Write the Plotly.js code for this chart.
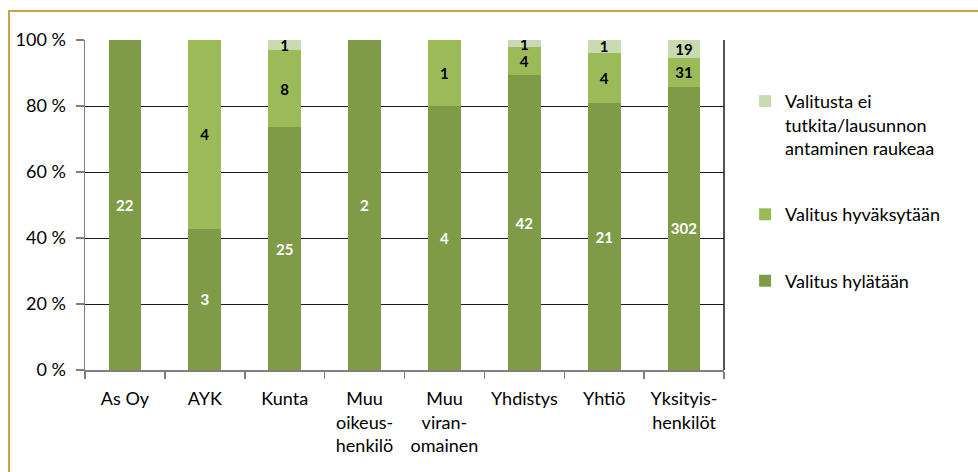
<!DOCTYPE html>
<html>
<head>
<meta charset="utf-8">
<script src="https://cdn.plot.ly/plotly-3.0.1.min.js"></script>
<style>
html,body{margin:0;padding:0;background:#fff;}
#frame{position:absolute;left:8px;top:10px;width:980px;height:470px;border-top:2px solid #C9A14A;border-left:2px solid #C9A14A;}
#chart{position:absolute;left:0;top:0;width:978px;height:472px;}
</style>
</head>
<body>
<div id="frame"></div>
<div id="chart"></div>
<script>
var categories = ["As Oy","AYK","Kunta","Muu<br>oikeus-<br>henkilö","Muu<br>viran-<br>omainen","Yhdistys","Yhtiö","Yksityis-<br>henkilöt"];
var hylataan   = [22, 3, 25, 2, 4, 42, 21, 302];
var hyvaksytaan= [0, 4, 8, 0, 1, 4, 4, 31];
var eiTutkita  = [0, 0, 1, 0, 0, 1, 1, 19];
var seriesNames = ["Valitus hylätään","Valitus hyväksytään","Valitusta ei<br>tutkita/lausunnon<br>antaminen raukeaa"];
var yTicks = [0,20,40,60,80,100];
var yTickText = ["0 %","20 %","40 %","60 %","80 %","100 %"];

var FONT = "'Gill Sans', 'Gill Sans MT', Lato, sans-serif";
function lbl(arr){ return arr.map(function(v){ return v ? String(v) : ""; }); }

function mk(vals, name, color, txtColor, group, rank){
  return {
    type:'bar', x:categories, y:vals, name:name,
    marker:{color:color, line:{width:0}},
    text:lbl(vals), textposition:'inside', insidetextanchor:'middle',
    constraintext:'none', textangle:0,
    textfont:{family:FONT, size:15, color:txtColor, weight:'bold'},
    legendgroup:group, legendrank:rank, hoverinfo:'none'
  };
}
var data = [
  mk(hylataan, seriesNames[0], '#809B48', '#ffffff', 'a', 3),
  mk(hyvaksytaan, seriesNames[1], '#9BBB59', '#000000', 'b', 2),
  mk(eiTutkita, seriesNames[2], '#C8DAB2', '#000000', 'c', 1)
];

var layout = {
  width:978, height:472,
  margin:{l:85, r:254, t:40, b:102},
  paper_bgcolor:'rgba(0,0,0,0)', plot_bgcolor:'rgba(0,0,0,0)',
  barmode:'stack', barnorm:'percent', bargap:0.59,
  font:{family:FONT, size:18, color:'#000'},
  showlegend:true,
  legend:{x:1.033, xanchor:'left', y:0.87, yanchor:'top', traceorder:'grouped', valign:'top',
          tracegroupgap:40, font:{family:FONT, size:18, color:'#000'}, bgcolor:'rgba(0,0,0,0)'},
  xaxis:{type:'category', showline:true, linecolor:'#7f7f7f', linewidth:1.5,
         ticks:'outside', tickson:'boundaries', ticklen:7, tickcolor:'#7f7f7f', tickwidth:1.5,
         ticklabelstandoff:12, showgrid:false, zeroline:false,
         tickfont:{family:FONT, size:18, color:'#000'}, fixedrange:true},
  yaxis:{range:[0,100], tickvals:yTicks, ticktext:yTickText, showline:true,
         linecolor:'#7f7f7f', linewidth:1.5, ticks:'outside', ticklen:8,
         tickcolor:'#7f7f7f', tickwidth:1.5, ticklabelstandoff:6,
         showgrid:true, gridcolor:'#1a1a1a', gridwidth:1, zeroline:false,
         tickfont:{family:FONT, size:18, color:'#000'}, fixedrange:true},
  shapes:[{type:'line', xref:'paper', yref:'paper', x0:1, x1:1, y0:0, y1:1,
           line:{color:'#1a1a1a', width:1.5}}]
};
Plotly.newPlot('chart', data, layout, {displayModeBar:false, staticPlot:true});
</script>
</body>
</html>
